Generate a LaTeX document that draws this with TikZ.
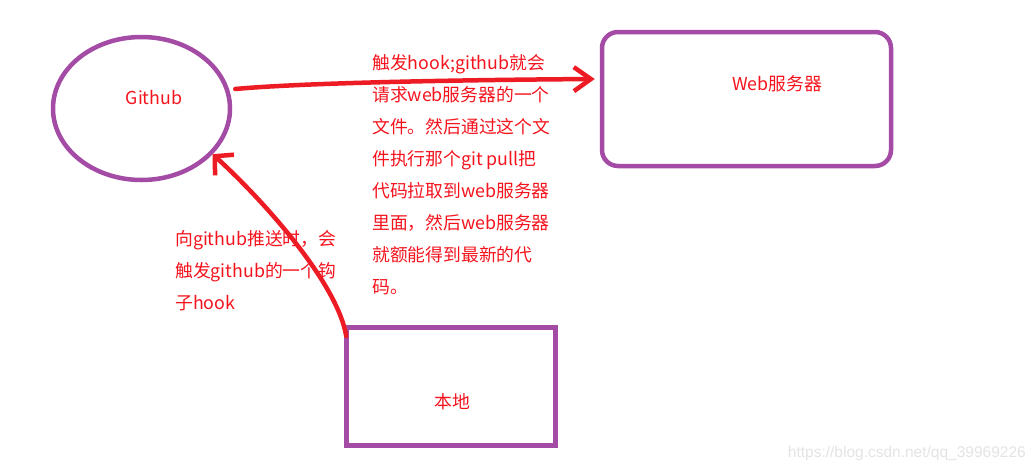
\documentclass[tikz,border=0pt]{standalone}
\usepackage{fontspec}
\setmainfont{Noto Sans CJK SC}
\newfontfamily\wmfont{Liberation Sans}
\usetikzlibrary{shapes.geometric,arrows.meta}
\definecolor{boxpurple}{RGB}{163,75,165}
\definecolor{penred}{RGB}{237,28,36}
\definecolor{txtred}{RGB}{245,20,30}
\definecolor{wmgray}{RGB}{228,228,228}
\tikzset{
  shapeline/.style={draw=boxpurple, line width=4.5pt, inner sep=0pt},
  redtext/.style={text=txtred, font=\fontsize{17.8}{32}\selectfont, inner sep=0pt},
  penarrow/.style={draw=penred, line width=4.5pt, line cap=round, line join=round},
}
\begin{document}
\begin{tikzpicture}[x=1pt,y=-1pt]
\useasboundingbox (0,0) rectangle (1036,472);
\fill[white] (0,0) rectangle (1036,472);

\node[shapeline, ellipse, minimum width=177pt, minimum height=143pt] (github) at (141.5,108.5) {};
\node[redtext] (githubtxt) at (154,98) {Github};

\node[shapeline, rectangle, rounded corners=16pt, minimum width=289pt, minimum height=134pt] (web) at (746.5,99) {};
\node[redtext] (webtxt) at (777,84) {Web服务器};

\node[shapeline, rectangle, minimum width=209pt, minimum height=118pt] (local) at (451,386.5) {};
\node[redtext] (localtxt) at (452,402) {本地};

\node[redtext, anchor=north west, align=left] (desc1) at (372,54.5) {触发hook;github就会\\请求web服务器的一个\\文件。然后通过这个文\\件执行那个git pull把\\代码拉取到web服务器\\里面，然后web服务器\\就额能得到最新的代\\码。};

\node[redtext, anchor=north west, align=left] (desc2) at (175,230) {向github推送时，会\\触发github的一个钩\\子hook};

\draw[penarrow, -{Straight Barb[length=17pt,width=24pt]}]
  ([xshift=3pt,yshift=19.5pt]github.east) .. controls (300,83) and (450,80) .. ([xshift=-5pt,yshift=20pt]web.west);

\draw[penarrow, -{Straight Barb[length=13pt,width=28pt]}]
  ([xshift=2pt,yshift=-11pt]local.north west) .. controls (338,285) and (268,205) .. ([xshift=7pt,yshift=6.5pt]github.south east);

\node[text=wmgray, font=\wmfont\fontsize{15.5}{18}\selectfont, anchor=east, inner sep=0pt] (wm) at (1026,453) {https://blog.csdn.net/qq\_39969226};
\end{tikzpicture}
\end{document}
